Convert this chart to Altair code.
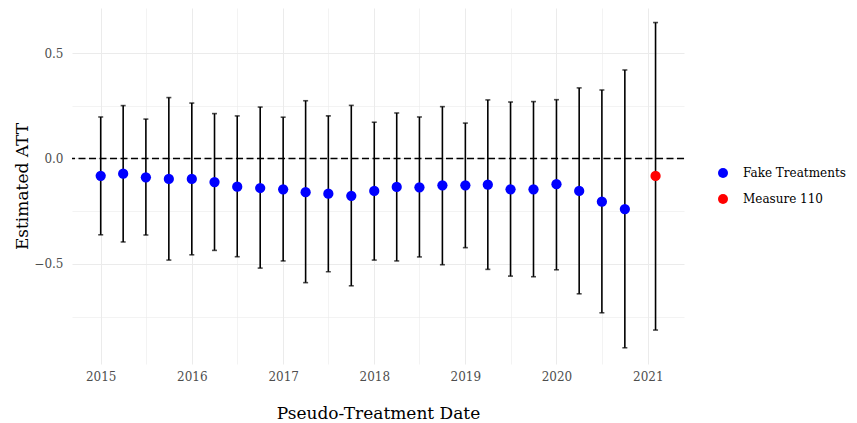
import altair as alt
import pandas as pd

dates = [
    "2015-01-01", "2015-04-01", "2015-07-01", "2015-10-01",
    "2016-01-01", "2016-04-01", "2016-07-01", "2016-10-01",
    "2017-01-01", "2017-04-01", "2017-07-01", "2017-10-01",
    "2018-01-01", "2018-04-01", "2018-07-01", "2018-10-01",
    "2019-01-01", "2019-04-01", "2019-07-01", "2019-10-01",
    "2020-01-01", "2020-04-01", "2020-07-01", "2020-10-01",
    "2021-02-01",
]
att = [-0.082, -0.072, -0.089, -0.097, -0.097, -0.112, -0.134, -0.140,
       -0.146, -0.160, -0.167, -0.177, -0.154, -0.135, -0.137, -0.127,
       -0.127, -0.124, -0.146, -0.146, -0.122, -0.154, -0.205, -0.240,
       -0.083]
upper = [0.197, 0.251, 0.187, 0.289, 0.263, 0.213, 0.202, 0.244,
         0.196, 0.274, 0.202, 0.252, 0.172, 0.216, 0.197, 0.246,
         0.168, 0.278, 0.268, 0.270, 0.279, 0.335, 0.325, 0.420,
         0.645]
lower = [-0.362, -0.396, -0.363, -0.482, -0.457, -0.436, -0.466, -0.520,
         -0.486, -0.589, -0.537, -0.604, -0.482, -0.486, -0.467, -0.504,
         -0.423, -0.526, -0.558, -0.561, -0.528, -0.642, -0.732, -0.898,
         -0.814]
groups = ["Fake Treatments"] * 24 + ["Measure 110"]

df = pd.DataFrame({"date": dates, "att": att, "lo": lower, "hi": upper, "group": groups})
zero = pd.DataFrame({"y": [0.0]})

FONT = "DejaVu Serif"

grid_vals_x = []
for yr in range(2015, 2022):
    grid_vals_x.append(alt.DateTime(year=yr, month=1, date=1, utc=True))
    if yr < 2021:
        grid_vals_x.append(alt.DateTime(year=yr, month=7, date=1, utc=True))

xscale = alt.Scale(
    type="utc",
    domain=[alt.DateTime(year=2014, month=9, date=8, utc=True),
            alt.DateTime(year=2021, month=5, date=26, utc=True)],
)
yscale = alt.Scale(domain=[-0.975, 0.714], nice=False, zero=False)

xaxis = alt.Axis(
    values=grid_vals_x,
    labelExpr="utcmonth(datum.value) == 0 ? utcFormat(datum.value, '%Y') : ''",
    title="Pseudo-Treatment Date",
    gridWidth=alt.condition("utcmonth(datum.value) == 0", alt.value(1.0), alt.value(0.6)),
    labelPadding=7,
    titlePadding=23,
)
yaxis = alt.Axis(
    values=[-0.75, -0.5, -0.25, 0, 0.25, 0.5],
    labelExpr="abs(datum.value * 2 - round(datum.value * 2)) < 0.001 ? format(datum.value, '.1f') : ''",
    title="Estimated ATT",
    gridWidth=alt.condition("abs(datum.value * 2 - round(datum.value * 2)) < 0.001", alt.value(1.0), alt.value(0.6)),
    labelPadding=9,
    titlePadding=2,
)

base = alt.Chart(df)

bars = base.mark_rule(color="black", strokeWidth=1.6).encode(
    x=alt.X("date:T", scale=xscale, axis=xaxis),
    y=alt.Y("lo:Q", scale=yscale, axis=yaxis),
    y2="hi:Q",
)
cap_top = base.mark_tick(color="black", orient="horizontal", size=5, thickness=1.6).encode(
    x="date:T", y="hi:Q"
)
cap_bot = base.mark_tick(color="black", orient="horizontal", size=5, thickness=1.6).encode(
    x="date:T", y="lo:Q"
)
hline = alt.Chart(zero).mark_rule(color="black", strokeWidth=1.4, strokeDash=[7, 3.5]).encode(
    y="y:Q"
)
points = base.mark_circle(size=105, opacity=1).encode(
    x="date:T",
    y="att:Q",
    color=alt.Color(
        "group:N",
        scale=alt.Scale(domain=["Fake Treatments", "Measure 110"], range=["#0000ff", "#ff0000"]),
        legend=alt.Legend(
            title=None,
            orient="none",
            legendX=645,
            legendY=159,
            symbolType="circle",
            symbolSize=100,
            symbolOpacity=1,
            labelFontSize=12,
            labelFont=FONT,
            labelColor="black",
            labelOffset=14,
            rowPadding=14,
            padding=0,
            labelLimit=200,
        ),
    ),
)

chart = (
    alt.layer(hline, bars, cap_top, cap_bot, points)
    .properties(
        width=612,
        height=356,
        autosize=alt.AutoSizeParams(type="none"),
        padding={"left": 64, "top": 0, "right": 165, "bottom": 59},
    )
    .configure_view(stroke=None)
    .configure_axis(
        labelFont=FONT,
        titleFont=FONT,
        labelFontSize=12,
        titleFontSize=17,
        titleFontWeight="normal",
        labelColor="#4d4d4d",
        titleColor="black",
        gridColor="#ebebeb",
        domain=False,
        ticks=False,
    )
)

chart.save("out.html", embed_options={"renderer": "svg", "actions": False})
